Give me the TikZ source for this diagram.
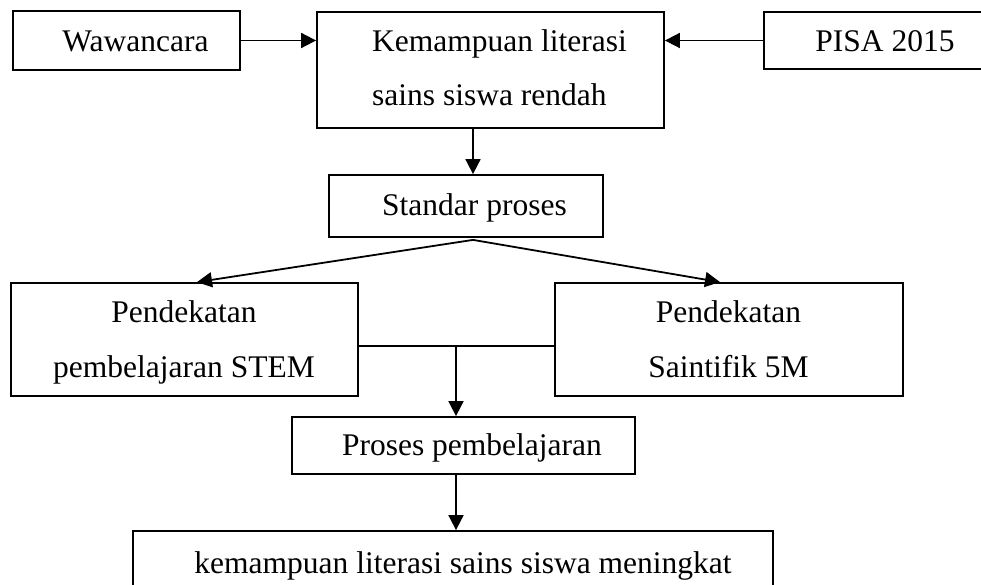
\documentclass[tikz,border=0pt]{standalone}
\usepackage{fontspec}
\setmainfont{Liberation Serif}
\usetikzlibrary{arrows.meta}
\begin{document}
\begin{tikzpicture}[x=1pt,y=-1pt,
  box/.style={draw, rectangle, line width=1.8pt, inner sep=0pt},
  txt/.style={inner sep=0pt, anchor=base, font=\fontsize{31.5}{38}\selectfont},
  arr/.style={line width=1.8pt, -{Triangle[length=15pt,width=15pt]}},
  ln/.style={line width=1.8pt}]
\useasboundingbox (0,0) rectangle (981,585);
% boxes
\node[box, minimum width=227pt, minimum height=59pt] (waw) at (126.5,40.5) {};
\node[box, minimum width=347pt, minimum height=116pt] (kem) at (490.5,70) {};
\node[box, minimum width=250pt, minimum height=57pt] (pisa) at (889,40.5) {};
\node[box, minimum width=274pt, minimum height=62pt] (std) at (466,206) {};
\node[box, minimum width=347pt, minimum height=113pt] (stem) at (184.5,339.5) {};
\node[box, minimum width=348pt, minimum height=113pt] (sai) at (729,339.5) {};
\node[box, minimum width=343pt, minimum height=57pt] (pro) at (463.5,445.5) {};
\node[box, minimum width=640pt, minimum height=70pt] (fin) at (453,566) {};
% texts
\node[txt] (wawT) at (135.5,52) {Wawancara};
\node[txt, anchor=base west] (kemT1) at (372,52) {Kemampuan literasi};
\node[txt, anchor=base west] (kemT2) at (372,106) {sains siswa rendah};
\node[txt] (pisaT) at (885,52) {PISA 2015};
\node[txt] (stdT) at (474.5,215) {Standar proses};
\node[txt] (stemT1) at (184,322) {Pendekatan};
\node[txt] (stemT2) at (184,377) {pembelajaran STEM};
\node[txt] (saiT1) at (728.5,322) {Pendekatan};
\node[txt] (saiT2) at (728.5,377) {Saintifik 5M};
\node[txt] (proT) at (472,455) {Proses pembelajaran};
\node[txt] (finT) at (463,573) {kemampuan literasi sains siswa meningkat};
% connectors
\draw[arr] (waw.east) -- (waw.east -| kem.west);
\draw[arr] (pisa.west) -- (pisa.west -| kem.east);
\draw[arr] ([xshift=-17.5pt]kem.south) -- ([xshift=-17.5pt]kem.south |- std.north);
\draw[arr] ([xshift=7pt,yshift=-2pt]std.south) -- ([xshift=12.5pt]stem.north);
\draw[arr] ([xshift=7pt,yshift=-2pt]std.south) -- ([xshift=-9pt]sai.north);
\coordinate (mid) at ([yshift=-6.5pt]stem.east);
\draw[ln] (mid) -- ([yshift=-6.5pt]sai.west);
\coordinate (pn) at ([xshift=-7.5pt]pro.north);
\coordinate (jn) at (pn |- mid);
\draw[arr] (jn) -- (pn);
\draw[arr] ([xshift=-7.5pt]pro.south) -- ([xshift=-7.5pt]pro.south |- fin.north);
\end{tikzpicture}
\end{document}
